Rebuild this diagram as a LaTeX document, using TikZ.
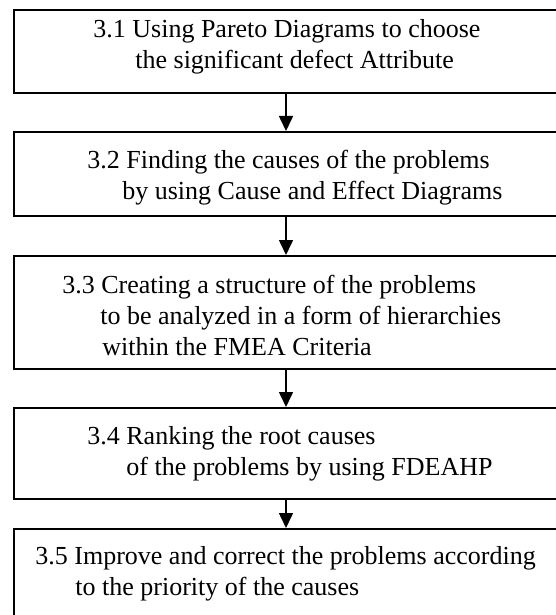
\documentclass[tikz,border=0pt]{standalone}
\usepackage{fontspec}
\setmainfont{Liberation Serif}
\usetikzlibrary{arrows.meta}

\tikzset{
  stage/.style={draw, line width=1pt, minimum width=272pt, anchor=north, inner sep=0pt},
  steptext/.style={anchor=north west, inner sep=0pt, align=left,
    font=\fontsize{13}{15.5}\selectfont},
  flow/.style={-{Triangle[width=7pt,length=7.5pt]}, line width=0.8pt}
}

\begin{document}
\begin{tikzpicture}[x=0.5pt, y=-0.5pt]
    \useasboundingbox (0,0) rectangle (556,615);
    \clip (0,0) rectangle (556,615);

    % Boxes of the five steps
    \node[stage, minimum height=41.5pt] (b1) at (286,9) {};
    \node[stage, minimum height=42pt]   (b2) at (286,131) {};
    \node[stage, minimum height=56.5pt] (b3) at (286,255) {};
    \node[stage, minimum height=45.5pt] (b4) at (286,407) {};
    \node[stage, minimum height=48.5pt] (b5) at (286,528) {};

    % Step texts
    \node[steptext] (t1) at (93,15) {\strut 3.1 Using Pareto Diagrams to choose\\
      \hspace*{21pt}the significant defect Attribute};
    \node[steptext] (t2) at (87,146) {\strut 3.2 Finding the causes of the problems\\
      \hspace*{17.5pt}by using Cause and Effect Diagrams};
    \node[steptext] (t3) at (62,271) {\strut 3.3 Creating a structure of the problems\\
      \hspace*{19pt}to be analyzed in a form of hierarchies\\
      \hspace*{20pt}within the FMEA Criteria};
    \node[steptext] (t4) at (87,422) {\strut 3.4 Ranking the root causes\\
      \hspace*{19.5pt}of the problems by using FDEAHP};
    \node[steptext] (t5) at (35,542) {\strut 3.5 Improve and correct the problems according\\
      \hspace*{20pt}to the priority of the causes};

    % Arrows between the steps
    \draw[flow] (b1.south) -- (b2.north);
    \draw[flow] (b2.south) -- (b3.north);
    \draw[flow] (b3.south) -- (b4.north);
    \draw[flow] (b4.south) -- (b5.north);

\end{tikzpicture}
\end{document}
